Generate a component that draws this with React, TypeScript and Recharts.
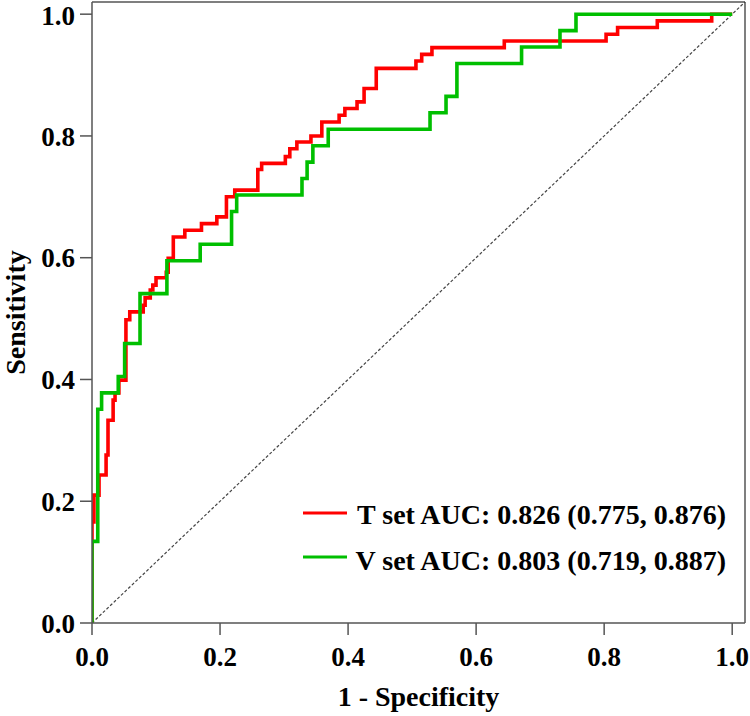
import React from 'react';
import { LineChart, Line, XAxis, YAxis, ReferenceLine, Legend } from 'recharts';

// T set ROC corner points (1 - specificity, sensitivity)
const tFpr = [0, 0, 0.003, 0.011, 0.022, 0.025, 0.033, 0.036, 0.042, 0.053, 0.059, 0.080, 0.083, 0.091, 0.095, 0.100, 0.116, 0.119, 0.127, 0.145, 0.171, 0.195, 0.210, 0.223, 0.259, 0.265, 0.302, 0.309, 0.320, 0.342, 0.359, 0.386, 0.395, 0.414, 0.425, 0.444, 0.506, 0.515, 0.531, 0.644, 0.803, 0.821, 0.883, 0.968, 1.0];
const tTpr = [0, 0.166, 0.210, 0.243, 0.276, 0.333, 0.366, 0.378, 0.399, 0.498, 0.511, 0.522, 0.534, 0.547, 0.555, 0.567, 0.576, 0.599, 0.634, 0.645, 0.656, 0.667, 0.700, 0.711, 0.745, 0.755, 0.766, 0.779, 0.790, 0.800, 0.823, 0.834, 0.845, 0.856, 0.878, 0.911, 0.923, 0.934, 0.945, 0.956, 0.967, 0.978, 0.989, 1.0, 1.0];

// V set ROC corner points
const vFpr = [0, 0, 0.009, 0.015, 0.041, 0.051, 0.075, 0.117, 0.169, 0.218, 0.226, 0.328, 0.336, 0.345, 0.369, 0.528, 0.553, 0.570, 0.671, 0.731, 0.756, 1.0];
const vTpr = [0, 0.134, 0.351, 0.378, 0.405, 0.459, 0.541, 0.595, 0.622, 0.676, 0.703, 0.730, 0.757, 0.784, 0.811, 0.838, 0.865, 0.919, 0.946, 0.973, 1.0, 1.0];

const axisTicks = [0, 0.2, 0.4, 0.6, 0.8, 1.0];
const seriesNames = ['T set AUC: 0.826 (0.775, 0.876)', 'V set AUC: 0.803 (0.719, 0.887)'];
const seriesColors = ['#FF0000', '#00BF00'];
const xTitle = '1 - Specificity';
const yTitle = 'Sensitivity';

const tData = tFpr.map((x, i) => ({ x, y: tTpr[i] }));
const vData = vFpr.map((x, i) => ({ x, y: vTpr[i] }));

const FONT = '"Liberation Serif", "Times New Roman", serif';
const AXIS = '#555555';

const tickStyle = { fill: '#000', fontSize: 27, fontWeight: 'bold', fontFamily: FONT };

const LegendContent = () => (
  <svg width={750} height={716} style={{ position: 'absolute', left: 0, top: 0, pointerEvents: 'none' }}>
    {seriesNames.map((name, i) => (
      <g key={name}>
        <line x1={303} x2={347} y1={513 + i * 44} y2={513 + i * 44} stroke={seriesColors[i]} strokeWidth={3} />
        <text x={726} y={524 + i * 46} textAnchor="end" fontFamily={FONT} fontWeight="bold" fontSize={28} fill="#000">
          {name}
        </text>
      </g>
    ))}
  </svg>
);

export default function App() {
  return (
    <div style={{ position: 'absolute', left: 0, top: 0, width: 750, height: 716, background: '#fff' }}>
      <LineChart width={750} height={716} margin={{ top: 2, right: 5, left: 0, bottom: 0 }}>
        <XAxis
          type="number"
          dataKey="x"
          domain={[0, 1.02]}
          ticks={axisTicks}
          allowDataOverflow
          tickFormatter={(v: number) => v.toFixed(1)}
          height={93}
          tickSize={12}
          tickMargin={12}
          stroke={AXIS}
          strokeWidth={1.5}
          tick={tickStyle}
          label={{
            content: (props: any) => {
              const vb = props.viewBox;
              return (
                <text x={vb.x + vb.width / 2} y={706} textAnchor="middle" fontFamily={FONT} fontWeight="bold" fontSize={28} fill="#000">
                  {xTitle}
                </text>
              );
            },
          }}
        />
        <YAxis
          type="number"
          dataKey="y"
          domain={[0, 1.02]}
          ticks={axisTicks}
          allowDataOverflow
          tickFormatter={(v: number) => v.toFixed(1)}
          width={92}
          tickSize={12}
          tickMargin={5}
          stroke={AXIS}
          strokeWidth={1.5}
          tick={tickStyle}
          label={{
            content: (props: any) => {
              const vb = props.viewBox;
              const cy = vb.y + vb.height / 2;
              return (
                <text x={25} y={cy} transform={`rotate(-90, 25, ${cy})`} textAnchor="middle" fontFamily={FONT} fontWeight="bold" fontSize={28} fill="#000">
                  {yTitle}
                </text>
              );
            },
          }}
        />
        <ReferenceLine y={1.02} stroke={AXIS} strokeWidth={1.5} />
        <ReferenceLine x={1.02} stroke={AXIS} strokeWidth={1.5} />
        <ReferenceLine
          segment={[{ x: 0, y: 0 }, { x: 1.02, y: 1.02 }]}
          stroke="#444"
          strokeWidth={1.2}
          strokeDasharray="3 2"
        />
        <Line
          data={tData}
          dataKey="y"
          name={seriesNames[0]}
          type="stepAfter"
          stroke={seriesColors[0]}
          strokeWidth={3.6}
          dot={false}
          activeDot={false}
          isAnimationActive={false}
        />
        <Line
          data={vData}
          dataKey="y"
          name={seriesNames[1]}
          type="stepAfter"
          stroke={seriesColors[1]}
          strokeWidth={3.6}
          dot={false}
          activeDot={false}
          isAnimationActive={false}
        />
        <Legend
          layout="horizontal"
          verticalAlign="middle"
          align="center"
          wrapperStyle={{ left: 0, top: 0, width: 750, height: 716, pointerEvents: 'none' }}
          content={LegendContent}
        />
      </LineChart>
    </div>
  );
}
